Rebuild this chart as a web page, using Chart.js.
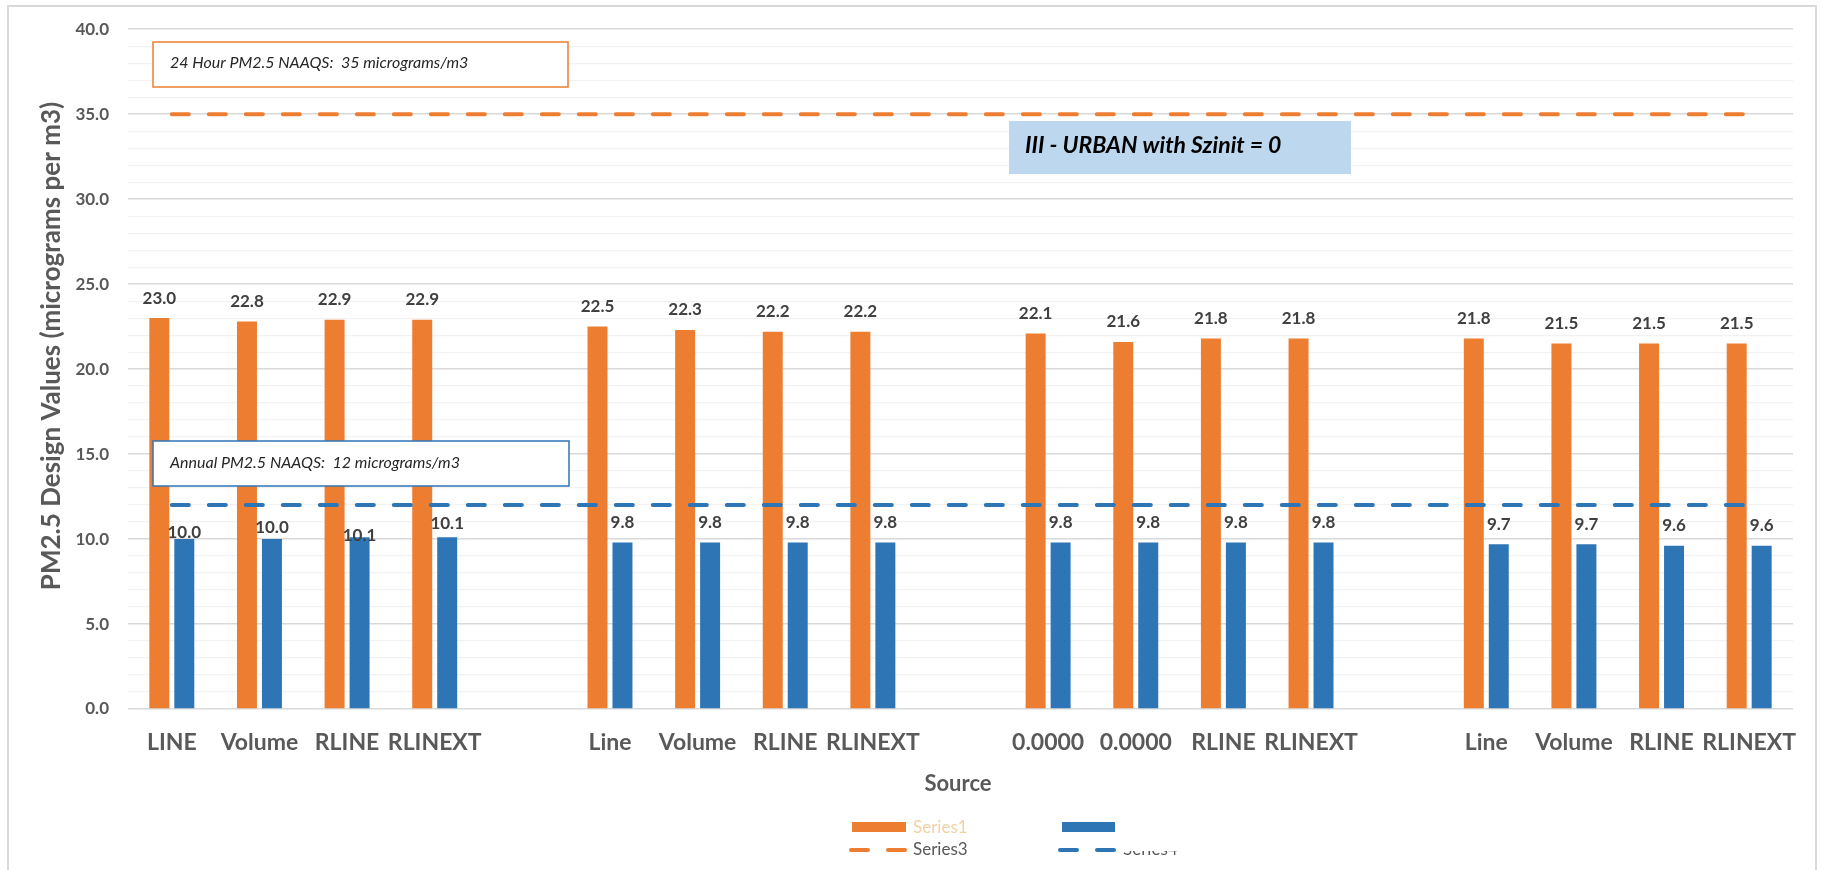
<!DOCTYPE html>
<html>
<head>
  <meta charset="utf-8">
  <title>PM2.5 Design Values</title>
  <script src="https://cdn.jsdelivr.net/npm/chart.js"></script>
  <style>
    html, body { margin: 0; padding: 0; overflow: hidden; background: #fff; }
    #frame {
      position: absolute; left: 7px; top: 5px; width: 1810px; height: 900px;
      border: 2px solid #d9d9d9; box-sizing: border-box;
    }
    #wrap { position: absolute; left: 0; top: 0; width: 1822px; height: 870px; }
  </style>
</head>
<body>
  <div id="frame"></div>
  <div id="wrap"><canvas id="pm"></canvas></div>

  <script>
    // sources along the x axis (blank slots separate the four runs)
    const sources = [
      'LINE', 'Volume', 'RLINE', 'RLINEXT', '',
      'Line', 'Volume', 'RLINE', 'RLINEXT', '',
      '0.0000', '0.0000', 'RLINE', 'RLINEXT', '',
      'Line', 'Volume', 'RLINE', 'RLINEXT'
    ];
    // 24-hour design values
    const series1 = [23.0, 22.8, 22.9, 22.9, null, 22.5, 22.3, 22.2, 22.2, null,
                     22.1, 21.6, 21.8, 21.8, null, 21.8, 21.5, 21.5, 21.5];
    // annual design values
    const series2 = [10.0, 10.0, 10.1, 10.1, null, 9.8, 9.8, 9.8, 9.8, null,
                     9.8, 9.8, 9.8, 9.8, null, 9.7, 9.7, 9.6, 9.6];
    // NAAQS reference lines
    const series3 = [35, 35, 35, 35, 35, 35, 35, 35, 35, 35, 35, 35, 35, 35, 35, 35, 35, 35, 35];
    const series4 = [12, 12, 12, 12, 12, 12, 12, 12, 12, 12, 12, 12, 12, 12, 12, 12, 12, 12, 12];
    const yMin = 0, yMax = 40, yMajor = 5;

    const ORANGE = '#ED7D31';
    const BLUE = '#2E75B6';
    const GREY = '#595959';
    const FONT = 'Lato, "Open Sans", sans-serif';

    // a few of the annual labels in the first run sit lower than the rest
    const labelLift = { 1: [7, 12, 2, 14] };

    const extras = {
      id: 'extras',
      afterDatasetsDraw(chart) {
        const ctx = chart.ctx;
        ctx.save();
        ctx.font = 'bold 17px ' + FONT;
        ctx.fillStyle = '#404040';
        ctx.textAlign = 'center';
        ctx.textBaseline = 'middle';
        chart.data.datasets.forEach((ds, di) => {
          if (ds.type !== 'bar') return;
          chart.getDatasetMeta(di).data.forEach((bar, i) => {
            const v = ds.data[i];
            if (v == null) return;
            const lift = (labelLift[di] && labelLift[di][i] != null) ? labelLift[di][i] : 20;
            ctx.fillText(v.toFixed(1), bar.x, bar.y - lift);
          });
        });
        ctx.restore();
      },
      afterDraw(chart) {
        const ctx = chart.ctx;
        ctx.save();

        // text boxes
        function box(x, y, w, h, stroke, fill) {
          ctx.fillStyle = fill;
          ctx.fillRect(x, y, w, h);
          if (stroke) {
            ctx.strokeStyle = stroke;
            ctx.lineWidth = 1.5;
            ctx.strokeRect(x, y, w, h);
          }
        }
        ctx.textBaseline = 'middle';
        ctx.textAlign = 'left';

        box(153, 42, 415, 45, ORANGE, '#fff');
        ctx.font = 'italic 16px ' + FONT;
        ctx.fillStyle = '#262626';
        ctx.fillText('24 Hour PM2.5 NAAQS:  35 micrograms/m3', 170, 63);

        box(153, 441, 416, 45, BLUE, '#fff');
        ctx.fillStyle = '#262626';
        ctx.fillText('Annual PM2.5 NAAQS:  12 micrograms/m3', 170, 463);

        box(1009, 121, 342, 53, null, '#BDD7EE');
        ctx.font = 'bold italic 23px ' + FONT;
        ctx.fillStyle = '#000';
        ctx.fillText('III - URBAN with Szinit = 0', 1025, 146);

        // axis titles
        ctx.fillStyle = GREY;
        ctx.font = 'bold 26px ' + FONT;
        ctx.save();
        ctx.translate(52, 346);
        ctx.rotate(-Math.PI / 2);
        ctx.textAlign = 'center';
        ctx.fillText('PM2.5 Design Values (micrograms per m3)', 0, 0);
        ctx.restore();

        ctx.font = 'bold 22px ' + FONT;
        ctx.textAlign = 'center';
        ctx.fillText('Source', 958, 784);

        // legend
        const ds = chart.data.datasets;
        ctx.textAlign = 'left';
        ctx.font = '17px ' + FONT;
        ctx.fillStyle = ds[0].backgroundColor;
        ctx.fillRect(852, 822, 54, 10);
        ctx.fillStyle = ds[1].backgroundColor;
        ctx.fillRect(1062, 822, 53, 10);
        ctx.fillStyle = '#F0D2A4';
        ctx.fillText(ds[0].label, 913, 828);

        ctx.lineWidth = 4;
        ctx.lineCap = 'round';
        ctx.setLineDash([17, 20]);
        ctx.strokeStyle = ds[2].borderColor;
        ctx.beginPath(); ctx.moveTo(851, 850); ctx.lineTo(906, 850); ctx.stroke();
        ctx.strokeStyle = ds[3].borderColor;
        ctx.beginPath(); ctx.moveTo(1060, 850); ctx.lineTo(1115, 850); ctx.stroke();
        ctx.setLineDash([]);
        ctx.fillStyle = GREY;
        ctx.fillText(ds[2].label, 913, 850);

        ctx.save();
        ctx.beginPath();
        ctx.rect(1115, 851, 120, 20);
        ctx.clip();
        ctx.fillText(ds[3].label, 1123, 850);
        ctx.restore();

        ctx.restore();
      }
    };

    new Chart(document.getElementById('pm'), {
      type: 'bar',
      data: {
        labels: sources,
        datasets: [
          { type: 'bar', label: 'Series1', data: series1, backgroundColor: ORANGE, order: 2,
            categoryPercentage: 0.57, barPercentage: 0.8 },
          { type: 'bar', label: '', data: series2, backgroundColor: BLUE, order: 2,
            categoryPercentage: 0.57, barPercentage: 0.8 },
          { type: 'line', label: 'Series3', data: series3, borderColor: ORANGE, borderWidth: 4,
            borderDash: [17, 20], borderCapStyle: 'round', pointRadius: 0, order: 1 },
          { type: 'line', label: 'Series4', data: series4, borderColor: BLUE, borderWidth: 4,
            borderDash: [17, 20], borderCapStyle: 'round', pointRadius: 0, order: 1 }
        ]
      },
      options: {
        responsive: true,
        maintainAspectRatio: false,
        animation: false,
        layout: { padding: { top: 29, right: 29, left: 0, bottom: 0 } },
        plugins: { legend: { display: false }, tooltip: { enabled: false } },
        scales: {
          x: {
            grid: { display: false, drawTicks: false },
            border: { display: false },
            ticks: { color: GREY, font: { family: FONT, size: 23, weight: 'bold' }, padding: 20,
                     maxRotation: 0, autoSkip: false },
            afterFit(scale) { scale.height = 161; }
          },
          y: {
            min: yMin, max: yMax,
            grid: {
              drawTicks: false,
              color: c => (c.tick.value % yMajor === 0 ? '#d9d9d9' : '#f2f2f2'),
              lineWidth: c => (c.tick.value % yMajor === 0 ? 1.5 : 1.2)
            },
            border: { display: false },
            ticks: {
              stepSize: 1, autoSkip: false, padding: 19, color: GREY,
              font: { family: FONT, size: 17, weight: 'bold' },
              callback: v => (v % yMajor === 0 ? v.toFixed(1) : '')
            },
            afterFit(scale) { scale.width = 128; }
          }
        }
      },
      plugins: [extras]
    });
  </script>
</body>
</html>
